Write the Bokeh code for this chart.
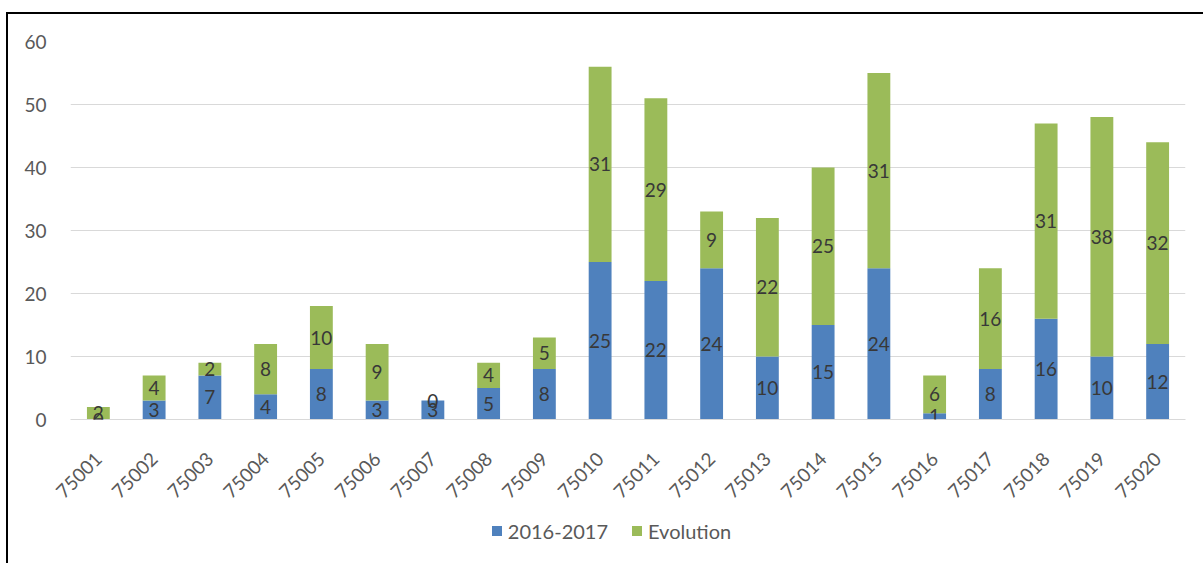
import math
from bokeh.plotting import figure
from bokeh.layouts import column
from bokeh.models import ColumnDataSource, LabelSet, FixedTicker, Div
from bokeh.core.properties import value
from bokeh.embed import file_html
from bokeh.resources import INLINE

categories = ["75001", "75002", "75003", "75004", "75005", "75006", "75007", "75008", "75009", "75010",
              "75011", "75012", "75013", "75014", "75015", "75016", "75017", "75018", "75019", "75020"]
base_2016_2017 = [0, 3, 7, 4, 8, 3, 3, 5, 8, 25, 22, 24, 10, 15, 24, 1, 8, 16, 10, 12]
evolution = [2, 4, 2, 8, 10, 9, 0, 4, 5, 31, 29, 9, 22, 25, 31, 6, 16, 31, 38, 32]
series_names = ["2016-2017", "Evolution"]
y_ticks = [0, 10, 20, 30, 40, 50, 60]

BLUE = "#4F81BD"
GREEN = "#9BBB59"
FONT = "Lato"

src = ColumnDataSource(dict(
    x=categories,
    base=base_2016_2017,
    evol=evolution,
    base_mid=[b / 2 for b in base_2016_2017],
    evol_mid=[b + e / 2 for b, e in zip(base_2016_2017, evolution)],
    base_lbl=[str(b) for b in base_2016_2017],
    evol_lbl=[str(e) for e in evolution],
))

p = figure(x_range=categories, y_range=(0, 60), width=1193, height=500,
           output_backend="svg", toolbar_location=None,
           min_border_left=62, min_border_top=27, min_border_right=16, min_border_bottom=95)
p.outline_line_color = None
p.background_fill_color = "white"
p.border_fill_color = "white"

r = p.vbar_stack(["base", "evol"], x="x", width=0.41, color=[BLUE, GREEN], line_color=None, source=src)

for col_y, col_t in (("base_mid", "base_lbl"), ("evol_mid", "evol_lbl")):
    p.add_layout(LabelSet(x="x", y=col_y, text=col_t, source=src, text_align="center",
                          text_baseline="middle", text_font=value(FONT), text_font_size="19px",
                          text_color="#383838"))

p.xgrid.grid_line_color = None
p.ygrid.grid_line_color = "#d9d9d9"
p.ygrid.grid_line_width = 1
p.yaxis.ticker = FixedTicker(ticks=y_ticks)
p.yaxis.axis_line_color = None
p.yaxis.major_tick_line_color = None
p.yaxis.minor_tick_line_color = None
p.yaxis.major_label_standoff = 18
p.yaxis.major_label_text_font = FONT
p.yaxis.major_label_text_font_size = "19px"
p.yaxis.major_label_text_color = "#595959"

p.xaxis.axis_line_color = "#d9d9d9"
p.xaxis.major_tick_line_color = None
p.xaxis.minor_tick_line_color = None
p.xaxis.major_label_orientation = math.pi / 4
p.xaxis.major_label_standoff = 30
p.xaxis.major_label_text_font = FONT
p.xaxis.major_label_text_font_size = "19px"
p.xaxis.major_label_text_color = "#595959"
p.x_range.range_padding = 0

sq = "display:inline-block;width:10px;height:10px;margin-right:6px;"
legend_html = (
    f'<div style="display:flex;justify-content:center;align-items:center;width:1193px;margin-top:-2px;'
    f'padding-left:4px;box-sizing:border-box;font-family:{FONT};font-size:20px;color:#595959;">'
    f'<span style="{sq}background:{BLUE};"></span><span>{series_names[0]}</span>'
    f'<span style="{sq}background:{GREEN};margin-left:24px;"></span><span>{series_names[1]}</span>'
    f'</div>'
)
legend_div = Div(text=legend_html, width=1193, height=40,
                 styles={"background-color": "white", "padding-top": "0px", "box-sizing": "border-box"})

layout = column(p, legend_div, spacing=0,
                styles={"border": "2px solid black", "margin-top": "12px", "margin-left": "6px",
                        "background-color": "white"})

open("out.html", "w").write(file_html(layout, INLINE))
